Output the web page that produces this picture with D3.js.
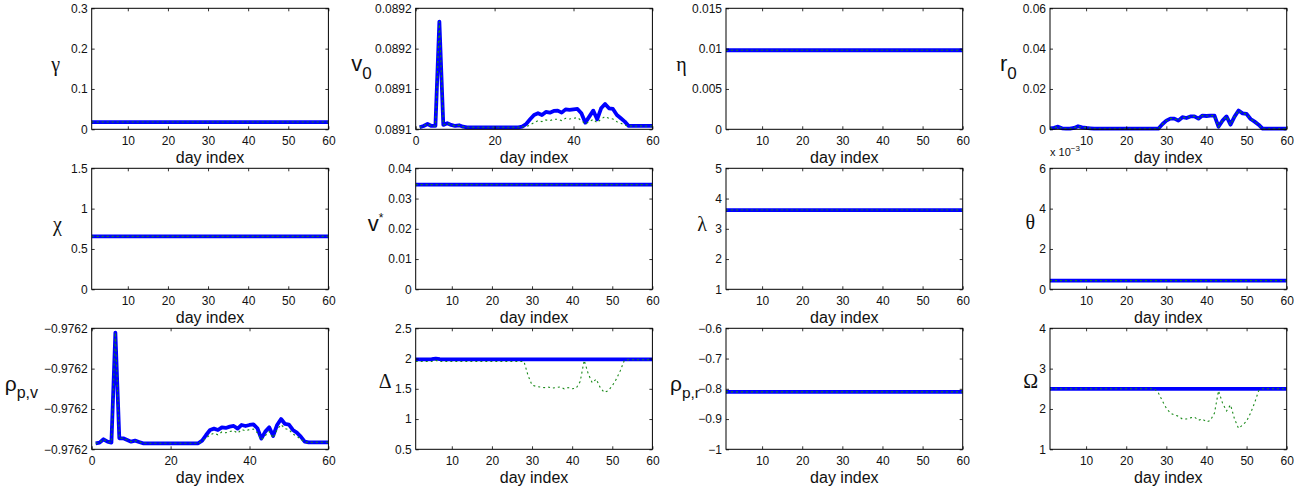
<!DOCTYPE html>
<html><head><meta charset="utf-8">
<script src="https://cdn.jsdelivr.net/npm/d3@7"></script>
<style>body{margin:0;background:#fff}svg{display:block}</style>
</head><body>
<svg id="chart" width="1316" height="494"></svg>
<script>
// ---------------- DATA ----------------
const dayIndex = d3.range(1, 61);

const gammaVals = [0.018,0.018,0.018,0.018,0.018,0.018,0.018,0.018,0.018,0.018,
 0.018,0.018,0.018,0.018,0.018,0.018,0.018,0.018,0.018,0.018,
 0.018,0.018,0.018,0.018,0.018,0.018,0.018,0.018,0.018,0.018,
 0.018,0.018,0.018,0.018,0.018,0.018,0.018,0.018,0.018,0.018,
 0.018,0.018,0.018,0.018,0.018,0.018,0.018,0.018,0.018,0.018,
 0.018,0.018,0.018,0.018,0.018,0.018,0.018,0.018,0.018,0.018];

const v0Blue = [0.0891020,0.0891033,0.0891053,0.0891033,0.0891033,0.0892068,0.0891043,0.0891060,0.0891043,0.0891033,
 0.0891040,0.0891026,0.0891020,0.0891020,0.0891020,0.0891020,0.0891020,0.0891020,0.0891020,0.0891020,
 0.0891020,0.0891020,0.0891020,0.0891020,0.0891020,0.0891020,0.0891026,0.0891053,0.0891099,0.0891142,
 0.0891159,0.0891142,0.0891172,0.0891165,0.0891182,0.0891185,0.0891165,0.0891198,0.0891192,0.0891198,
 0.0891202,0.0891159,0.0891066,0.0891126,0.0891185,0.0891099,0.0891208,0.0891251,0.0891208,0.0891202,
 0.0891142,0.0891109,0.0891076,0.0891033,0.0891033,0.0891033,0.0891033,0.0891033,0.0891033,0.0891033];
const v0Green = [0.0891020,0.0891033,0.0891053,0.0891033,0.0891033,0.0892068,0.0891043,0.0891060,0.0891043,0.0891033,
 0.0891040,0.0891026,0.0891020,0.0891020,0.0891020,0.0891020,0.0891020,0.0891020,0.0891020,0.0891020,
 0.0891020,0.0891020,0.0891020,0.0891020,0.0891020,0.0891020,0.0891026,0.0891026,0.0891043,0.0891066,
 0.0891086,0.0891076,0.0891093,0.0891086,0.0891099,0.0891099,0.0891086,0.0891109,0.0891102,0.0891109,
 0.0891116,0.0891086,0.0891053,0.0891076,0.0891099,0.0891066,0.0891102,0.0891126,0.0891109,0.0891102,
 0.0891076,0.0891060,0.0891040,0.0891033,0.0891033,0.0891033,0.0891033,0.0891033,0.0891033,0.0891033];

const etaVals = [0.0098,0.0098,0.0098,0.0098,0.0098,0.0098,0.0098,0.0098,0.0098,0.0098,
 0.0098,0.0098,0.0098,0.0098,0.0098,0.0098,0.0098,0.0098,0.0098,0.0098,
 0.0098,0.0098,0.0098,0.0098,0.0098,0.0098,0.0098,0.0098,0.0098,0.0098,
 0.0098,0.0098,0.0098,0.0098,0.0098,0.0098,0.0098,0.0098,0.0098,0.0098,
 0.0098,0.0098,0.0098,0.0098,0.0098,0.0098,0.0098,0.0098,0.0098,0.0098,
 0.0098,0.0098,0.0098,0.0098,0.0098,0.0098,0.0098,0.0098,0.0098,0.0098];

const r0Vals = [0.0005,0.0007,0.0013,0.0005,0.0003,0.0003,0.0007,0.0015,0.0010,0.0007,
 0.0005,0.0003,0.0003,0.0003,0.0003,0.0003,0.0003,0.0003,0.0003,0.0003,
 0.0003,0.0003,0.0003,0.0003,0.0003,0.0003,0.0003,0.0003,0.0025,0.0043,
 0.0053,0.0053,0.0043,0.0060,0.0056,0.0064,0.0064,0.0053,0.0068,0.0066,
 0.0068,0.0068,0.0013,0.0043,0.0064,0.0023,0.0063,0.0093,0.0079,0.0076,
 0.0051,0.0038,0.0023,0.0003,0.0003,0.0003,0.0003,0.0003,0.0003,0.0003];

const chiVals = [0.656,0.656,0.656,0.656,0.656,0.656,0.656,0.656,0.656,0.656,
 0.656,0.656,0.656,0.656,0.656,0.656,0.656,0.656,0.656,0.656,
 0.656,0.656,0.656,0.656,0.656,0.656,0.656,0.656,0.656,0.656,
 0.656,0.656,0.656,0.656,0.656,0.656,0.656,0.656,0.656,0.656,
 0.656,0.656,0.656,0.656,0.656,0.656,0.656,0.656,0.656,0.656,
 0.656,0.656,0.656,0.656,0.656,0.656,0.656,0.656,0.656,0.656];

const vStarVals = [0.0346,0.0346,0.0346,0.0346,0.0346,0.0346,0.0346,0.0346,0.0346,0.0346,
 0.0346,0.0346,0.0346,0.0346,0.0346,0.0346,0.0346,0.0346,0.0346,0.0346,
 0.0346,0.0346,0.0346,0.0346,0.0346,0.0346,0.0346,0.0346,0.0346,0.0346,
 0.0346,0.0346,0.0346,0.0346,0.0346,0.0346,0.0346,0.0346,0.0346,0.0346,
 0.0346,0.0346,0.0346,0.0346,0.0346,0.0346,0.0346,0.0346,0.0346,0.0346,
 0.0346,0.0346,0.0346,0.0346,0.0346,0.0346,0.0346,0.0346,0.0346,0.0346];

const lambdaVals = [3.62,3.62,3.62,3.62,3.62,3.62,3.62,3.62,3.62,3.62,
 3.62,3.62,3.62,3.62,3.62,3.62,3.62,3.62,3.62,3.62,
 3.62,3.62,3.62,3.62,3.62,3.62,3.62,3.62,3.62,3.62,
 3.62,3.62,3.62,3.62,3.62,3.62,3.62,3.62,3.62,3.62,
 3.62,3.62,3.62,3.62,3.62,3.62,3.62,3.62,3.62,3.62,
 3.62,3.62,3.62,3.62,3.62,3.62,3.62,3.62,3.62,3.62];

const thetaVals = [0.00043,0.00043,0.00043,0.00043,0.00043,0.00043,0.00043,0.00043,0.00043,0.00043,
 0.00043,0.00043,0.00043,0.00043,0.00043,0.00043,0.00043,0.00043,0.00043,0.00043,
 0.00043,0.00043,0.00043,0.00043,0.00043,0.00043,0.00043,0.00043,0.00043,0.00043,
 0.00043,0.00043,0.00043,0.00043,0.00043,0.00043,0.00043,0.00043,0.00043,0.00043,
 0.00043,0.00043,0.00043,0.00043,0.00043,0.00043,0.00043,0.00043,0.00043,0.00043,
 0.00043,0.00043,0.00043,0.00043,0.00043,0.00043,0.00043,0.00043,0.00043,0.00043];

const rhoPVBlue = [-0.97621851,-0.97621835,-0.97621752,-0.97621810,-0.97621835,-0.97619107,-0.97621727,-0.97621727,-0.97621769,-0.97621810,
 -0.97621785,-0.97621818,-0.97621851,-0.97621851,-0.97621851,-0.97621851,-0.97621851,-0.97621851,-0.97621851,-0.97621851,
 -0.97621851,-0.97621851,-0.97621851,-0.97621851,-0.97621851,-0.97621851,-0.97621851,-0.97621785,-0.97621645,-0.97621521,
 -0.97621488,-0.97621521,-0.97621455,-0.97621471,-0.97621438,-0.97621422,-0.97621488,-0.97621397,-0.97621422,-0.97621397,
 -0.97621380,-0.97621479,-0.97621736,-0.97621562,-0.97621455,-0.97621669,-0.97621397,-0.97621248,-0.97621372,-0.97621388,
 -0.97621521,-0.97621587,-0.97621686,-0.97621810,-0.97621826,-0.97621826,-0.97621826,-0.97621826,-0.97621826,-0.97621826];
const rhoPVGreen = [-0.97621851,-0.97621835,-0.97621752,-0.97621810,-0.97621835,-0.97619107,-0.97621727,-0.97621727,-0.97621769,-0.97621810,
 -0.97621785,-0.97621818,-0.97621851,-0.97621851,-0.97621851,-0.97621851,-0.97621851,-0.97621851,-0.97621851,-0.97621851,
 -0.97621851,-0.97621851,-0.97621851,-0.97621851,-0.97621851,-0.97621851,-0.97621851,-0.97621800,-0.97621720,-0.97621640,
 -0.97621600,-0.97621640,-0.97621570,-0.97621590,-0.97621560,-0.97621540,-0.97621600,-0.97621510,-0.97621540,-0.97621510,
 -0.97621500,-0.97621590,-0.97621760,-0.97621660,-0.97621560,-0.97621720,-0.97621510,-0.97621390,-0.97621490,-0.97621510,
 -0.97621620,-0.97621680,-0.97621750,-0.97621820,-0.97621826,-0.97621826,-0.97621826,-0.97621826,-0.97621826,-0.97621826];

const deltaBlue = [1.985,1.985,1.985,1.985,1.99,2.0,1.99,1.985,1.985,1.985,
 1.985,1.985,1.985,1.985,1.985,1.985,1.985,1.985,1.985,1.985,
 1.985,1.985,1.985,1.985,1.985,1.985,1.985,1.985,1.985,1.985,
 1.985,1.985,1.985,1.985,1.985,1.985,1.985,1.985,1.985,1.985,
 1.985,1.985,1.985,1.985,1.985,1.985,1.985,1.985,1.985,1.985,
 1.985,1.985,1.985,1.985,1.985,1.985,1.985,1.985,1.985,1.985];
const deltaGreen = [1.95,1.95,1.95,1.95,1.95,1.97,1.95,1.95,1.95,1.95,
 1.95,1.95,1.95,1.95,1.95,1.95,1.95,1.95,1.95,1.95,
 1.95,1.95,1.95,1.95,1.95,1.95,1.95,1.95,1.72,1.56,
 1.54,1.53,1.52,1.53,1.51,1.52,1.53,1.50,1.52,1.50,
 1.51,1.62,1.97,1.75,1.60,1.66,1.52,1.44,1.47,1.55,
 1.66,1.80,1.97,1.98,1.98,1.98,1.98,1.98,1.98,1.98];

const rhoPRVals = [-0.81,-0.81,-0.81,-0.81,-0.81,-0.81,-0.81,-0.81,-0.81,-0.81,
 -0.81,-0.81,-0.81,-0.81,-0.81,-0.81,-0.81,-0.81,-0.81,-0.81,
 -0.81,-0.81,-0.81,-0.81,-0.81,-0.81,-0.81,-0.81,-0.81,-0.81,
 -0.81,-0.81,-0.81,-0.81,-0.81,-0.81,-0.81,-0.81,-0.81,-0.81,
 -0.81,-0.81,-0.81,-0.81,-0.81,-0.81,-0.81,-0.81,-0.81,-0.81,
 -0.81,-0.81,-0.81,-0.81,-0.81,-0.81,-0.81,-0.81,-0.81,-0.81];

const omegaBlue = [2.5,2.5,2.5,2.5,2.5,2.5,2.5,2.5,2.5,2.5,
 2.5,2.5,2.5,2.5,2.5,2.5,2.5,2.5,2.5,2.5,
 2.5,2.5,2.5,2.5,2.5,2.5,2.5,2.5,2.5,2.5,
 2.5,2.5,2.5,2.5,2.5,2.5,2.5,2.5,2.5,2.5,
 2.5,2.5,2.5,2.5,2.5,2.5,2.5,2.5,2.5,2.5,
 2.5,2.5,2.5,2.5,2.5,2.5,2.5,2.5,2.5,2.5];
const omegaGreen = [2.5,2.5,2.5,2.5,2.5,2.5,2.5,2.5,2.5,2.5,
 2.5,2.5,2.5,2.5,2.5,2.5,2.5,2.5,2.5,2.5,
 2.5,2.5,2.5,2.5,2.5,2.5,2.5,2.4,2.2,2.02,
 1.9,1.85,1.82,1.75,1.75,1.78,1.8,1.72,1.75,1.68,
 1.72,1.9,2.45,2.15,1.95,2.1,1.75,1.52,1.6,1.7,
 1.9,2.15,2.45,2.5,2.5,2.5,2.5,2.5,2.5,2.5];

// tick values / labels
const xTicksA = [10, 20, 30, 40, 50, 60];
const xTicksB = [0, 20, 40, 60];
const gammaTicks = [0, 0.1, 0.2, 0.3];
const v0Ticks = [0.08910, 0.08914, 0.08918, 0.08922];
const v0TickLabels = ["0.0891", "0.0891", "0.0892", "0.0892"];
const etaTicks = [0, 0.005, 0.01, 0.015];
const r0Ticks = [0, 0.02, 0.04, 0.06];
const chiTicks = [0, 0.5, 1, 1.5];
const vStarTicks = [0, 0.01, 0.02, 0.03, 0.04];
const lambdaTicks = [1, 2, 3, 4, 5];
const thetaTicks = [0, 0.002, 0.004, 0.006];
const thetaTickLabels = ["0", "2", "4", "6"];
const rhoPVTicks = [-0.97622, -0.97621, -0.97620, -0.97619];
const rhoPVTickLabels = ["\u22120.9762", "\u22120.9762", "\u22120.9762", "\u22120.9762"];
const deltaTicks = [0.5, 1, 1.5, 2, 2.5];
const rhoPRTicks = [-1, -0.9, -0.8, -0.7, -0.6];
const omegaTicks = [1, 2, 3, 4];

const xLabel = "day index";

// ---------------- PANELS ----------------
const SANS = "'Liberation Sans', Arial, Helvetica, sans-serif";
const SERIF = "'Liberation Serif', 'Times New Roman', serif";
const panels = [
  {label:[{t:"\u03B3", f:SERIF}], blue:gammaVals, green:gammaVals, yDom:[0,0.3], yTicks:gammaTicks, xDom:[1,60], xTicks:xTicksA},
  {label:[{t:"v", f:SANS, s:22},{t:"0", f:SANS, s:17, dy:8}], blue:v0Blue, green:v0Green, yDom:[0.08910,0.08922], yTicks:v0Ticks, yLabels:v0TickLabels, xDom:[0,60], xTicks:xTicksB},
  {label:[{t:"\u03B7", f:SERIF}], blue:etaVals, green:etaVals, yDom:[0,0.015], yTicks:etaTicks, xDom:[1,60], xTicks:xTicksA},
  {label:[{t:"r", f:SANS, s:22},{t:"0", f:SANS, s:17, dy:8}], blue:r0Vals, green:r0Vals, yDom:[0,0.06], yTicks:r0Ticks, xDom:[1,60], xTicks:xTicksA},
  {label:[{t:"\u03C7", f:SERIF}], blue:chiVals, green:chiVals, yDom:[0,1.5], yTicks:chiTicks, xDom:[1,60], xTicks:xTicksA},
  {label:[{t:"v", f:SANS, s:22},{t:"*", f:SANS, s:12, dy:-9}], blue:vStarVals, green:vStarVals, yDom:[0,0.04], yTicks:vStarTicks, xDom:[1,60], xTicks:xTicksA},
  {label:[{t:"\u03BB", f:SERIF}], blue:lambdaVals, green:lambdaVals, yDom:[1,5], yTicks:lambdaTicks, xDom:[1,60], xTicks:xTicksA},
  {label:[{t:"\u03B8", f:SERIF}], blue:thetaVals, green:thetaVals, yDom:[0,0.006], yTicks:thetaTicks, yLabels:thetaTickLabels, xDom:[1,60], xTicks:xTicksA, exponent:"\u22123"},
  {label:[{t:"\u03C1", f:SANS, s:21},{t:"p,v", f:SANS, s:16, dy:7}], blue:rhoPVBlue, green:rhoPVGreen, yDom:[-0.97622,-0.97619], yTicks:rhoPVTicks, yLabels:rhoPVTickLabels, xDom:[0,60], xTicks:xTicksB},
  {label:[{t:"\u0394", f:SERIF}], blue:deltaBlue, green:deltaGreen, yDom:[0.5,2.5], yTicks:deltaTicks, xDom:[1,60], xTicks:xTicksA},
  {label:[{t:"\u03C1", f:SANS, s:21},{t:"p,r", f:SANS, s:15.5, dy:7}], blue:rhoPRVals, green:rhoPRVals, yDom:[-1,-0.6], yTicks:rhoPRTicks, xDom:[1,60], xTicks:xTicksA},
  {label:[{t:"\u03A9", f:SERIF}], blue:omegaBlue, green:omegaGreen, yDom:[1,4], yTicks:omegaTicks, xDom:[1,60], xTicks:xTicksA}
];

// layout (positions only)
const colLeft = [91.7, 415.7, 726, 1050];
const rowTop = [8.3, 168.3, 328.3];
const plotW = 236.7, plotH = 121;
const labelRightOffset = [-31.7, -44, -39.3, -33.3, -29.7, -32.4, -19, -15, -53.7, -24, -26, -12];
const labelYOffset = [2, 2, 2, 2, 2, 2, 2, 0, 2, -1, 2, -1];

const svg = d3.select("#chart");
svg.append("rect").attr("width",1316).attr("height",494).attr("fill","#fff");

panels.forEach((p, i) => {
  const L = colLeft[i % 4], T = rowTop[Math.floor(i / 4)];
  const g = svg.append("g").attr("transform", `translate(${L},${T})`);
  const x = d3.scaleLinear().domain(p.xDom).range([0, plotW]);
  const y = d3.scaleLinear().domain(p.yDom).range([plotH, 0]);

  const clipId = "clip" + i;
  g.append("clipPath").attr("id", clipId).append("rect")
    .attr("x", 0).attr("y", -2).attr("width", plotW).attr("height", plotH + 4);

  const line = d3.line().x((d, k) => x(dayIndex[k])).y(d => y(d));
  const lg = g.append("g").attr("clip-path", `url(#${clipId})`);
  lg.append("path").attr("d", line(p.blue)).attr("fill", "none")
    .attr("stroke", "#0000ff").attr("stroke-width", 3.8).attr("stroke-linejoin", "round");
  lg.append("path").attr("d", line(p.green)).attr("fill", "none")
    .attr("stroke", "#1a8a1a").attr("stroke-width", 1.1).attr("stroke-dasharray", "2,3");

  const fmt = (v, k) => p.yLabels ? p.yLabels[k] : d3.format("")(+v.toPrecision(6)).replace("-", "\u2212");

  // axes with inward ticks
  const xb = g.append("g").attr("transform", `translate(0,${plotH})`)
    .call(d3.axisBottom(x).tickValues(p.xTicks).tickSize(-3).tickPadding(7.5));
  const xt = g.append("g").call(d3.axisTop(x).tickValues(p.xTicks).tickSize(-3).tickFormat(""));
  const yl = g.append("g").call(d3.axisLeft(y).tickValues(p.yTicks).tickSize(-3).tickPadding(4)
    .tickFormat((v, k) => fmt(v, k)));
  const yr = g.append("g").attr("transform", `translate(${plotW},0)`)
    .call(d3.axisRight(y).tickValues(p.yTicks).tickSize(-3).tickFormat(""));
  [xb, xt, yl, yr].forEach(a => {
    a.select(".domain").remove();
    a.selectAll("line").attr("stroke", "#000").attr("stroke-width", 0.8);
    a.selectAll("text").attr("fill", "#111").style("font-family", SANS).style("font-size", "12px");
  });

  g.append("rect").attr("x", 0).attr("y", 0).attr("width", plotW).attr("height", plotH)
    .attr("fill", "none").attr("stroke", "#000").attr("stroke-width", 1);

  // x label
  g.append("text").attr("x", plotW / 2).attr("y", plotH + 34).attr("text-anchor", "middle")
    .style("font-family", SANS).style("font-size", "16px").attr("fill", "#111").text(xLabel);

  // y label
  const yt = g.append("text").attr("text-anchor", "end")
    .attr("x", labelRightOffset[i]).attr("y", plotH / 2 + labelYOffset[i]).attr("fill", "#111");
  p.label.forEach(part => {
    yt.append("tspan").text(part.t).style("font-family", part.f)
      .style("font-size", (part.s || 20) + "px").attr("dy", part.dy || 0);
  });

  if (p.exponent) {
    const et = g.append("text").attr("x", 0).attr("y", -12).attr("fill", "#111")
      .style("font-family", SANS).style("font-size", "11px");
    et.append("tspan").text("x 10");
    et.append("tspan").text(p.exponent).style("font-size", "8px").attr("dy", -5);
  }
});
</script>
</body></html>
